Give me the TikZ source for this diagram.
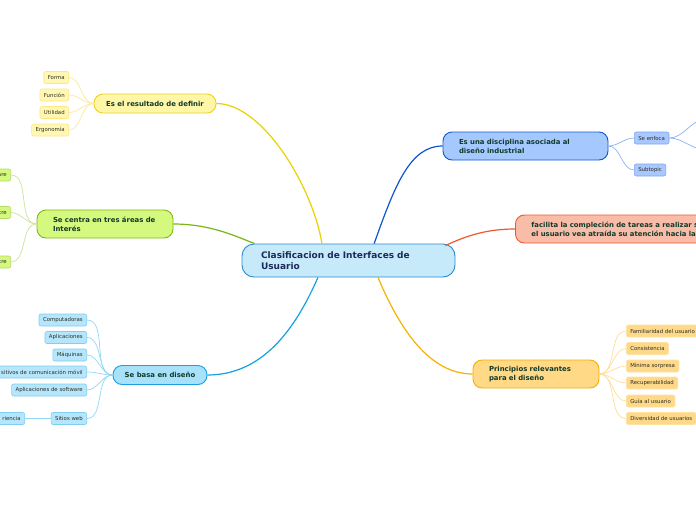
\documentclass[tikz,border=0pt]{standalone}
\usepackage{fontspec}
\setmainfont{DejaVu Sans}
\usetikzlibrary{calc}
\definecolor{ytfill}{HTML}{FFF6A8}\definecolor{ytdraw}{HTML}{EBD321}\definecolor{ytline}{HTML}{E8D200}
\definecolor{ylfill}{HTML}{FFF7B3}\definecolor{yldraw}{HTML}{FFE680}\definecolor{ylline}{HTML}{FBEA9A}
\definecolor{gtfill}{HTML}{D5F87E}\definecolor{gtdraw}{HTML}{80BA14}\definecolor{gtline}{HTML}{7CB518}
\definecolor{glfill}{HTML}{D5F87E}\definecolor{gldraw}{HTML}{B5DC6A}\definecolor{glline}{HTML}{C8E69A}
\definecolor{btfill}{HTML}{A7E1FA}\definecolor{btdraw}{HTML}{1AA0E0}\definecolor{btline}{HTML}{14A2E0}
\definecolor{blfill}{HTML}{B5E6FB}\definecolor{bldraw}{HTML}{80CFF2}\definecolor{blline}{HTML}{90D8F5}
\definecolor{cfill}{HTML}{C7EAFA}\definecolor{cdraw}{HTML}{2B8AD0}
\definecolor{dtfill}{HTML}{A5C8FF}\definecolor{dtdraw}{HTML}{0D5AD5}\definecolor{dtline}{HTML}{0B55D0}
\definecolor{dlfill}{HTML}{A8C8FF}\definecolor{dldraw}{HTML}{7FA8F0}\definecolor{dlline}{HTML}{8DB0F0}
\definecolor{stfill}{HTML}{F8BCA8}\definecolor{stdraw}{HTML}{F0582A}
\definecolor{otfill}{HTML}{FFD985}\definecolor{otdraw}{HTML}{F5B000}\definecolor{otline}{HTML}{F5B200}
\definecolor{olfill}{HTML}{FFD98A}\definecolor{oldraw}{HTML}{FFE2A0}\definecolor{olline}{HTML}{FFDE99}
\definecolor{tgreen}{HTML}{123A2A}\definecolor{tnavy}{HTML}{1B2A5A}\definecolor{tleaf}{HTML}{2E2E22}
\begin{document}
\begin{tikzpicture}[x=1pt,y=-1pt,
  topic/.style={draw,line width=0.9pt,rounded corners=9pt,minimum height=28pt,inner ysep=2pt,
    font=\bfseries\fontsize{6.9}{9}\selectfont,text=tgreen},
  onel/.style={topic,minimum height=19pt,align=center,inner xsep=0pt},
  twol/.style={topic,align=left,inner xsep=16pt},
  leaf/.style={draw,line width=0.6pt,rounded corners=2pt,minimum height=12pt,inner xsep=4pt,inner ysep=0pt,
    font=\fontsize{5.4}{6.4}\selectfont,text=tleaf},
  mainline/.style={line width=1.2pt},
  leafline/.style={line width=0.7pt},
  fan/.style={out=180,in=0,looseness=0.9},
  fanr/.style={out=0,in=180,looseness=0.9}]
\useasboundingbox (0,0) rectangle (696,520);
\fill[white] (0,0) rectangle (696,520);

% central
\node[draw=cdraw,fill=cfill,line width=0.9pt,rounded corners=12pt,minimum width=213pt,minimum height=33pt,
  text width=175pt,inner xsep=19pt,align=left,font=\bfseries\fontsize{9}{11}\selectfont,text=tnavy]
  (c) at (348.5,260.5) {Clasificacion de Interfaces de\\Usuario};

% yellow
\node[onel,draw=ytdraw,fill=ytfill,minimum width=122pt] (y) at (155,103.5) {Es el resultado de definir};
\node[leaf,draw=yldraw,fill=ylfill,anchor=east] (y1) at (69,77.5) {Forma};
\node[leaf,draw=yldraw,fill=ylfill,anchor=east] (y2) at (69,95) {Función};
\node[leaf,draw=yldraw,fill=ylfill,anchor=east] (y3) at (69,112.5) {Utilidad};
\node[leaf,draw=yldraw,fill=ylfill,anchor=east] (y4) at (69,130) {Ergonomía};
\foreach \n in {y1,y2,y3,y4} \draw[ylline,leafline] (y.west) to[fan] (\n.east);
\draw[ytline,mainline] ($(c.north west)!0.376!(c.north east)$) .. controls (312,185) and (262,103.5) .. (y.east);

% green
\node[twol,draw=gtdraw,fill=gtfill,minimum width=136pt,text width=104pt] (g) at (105,224) {Se centra en tres áreas de\\Interés};
\node[leaf,draw=gldraw,fill=glfill,anchor=east,text width=30pt,align=right] (g1) at (11,175) {are};
\node[leaf,draw=gldraw,fill=glfill,anchor=east,text width=30pt,align=right] (g2) at (11,212.5) {tre};
\node[leaf,draw=gldraw,fill=glfill,anchor=east,text width=30pt,align=right] (g3) at (11,262) {tre};
\foreach \n in {g1,g2,g3} \draw[glline,leafline] (g.west) to[fan] (\n.east);
\draw[gtline,mainline] (g.east) .. controls (210,224) and (235,236) .. ($(c.north west)+(13,0)$);

% light blue
\node[onel,draw=btdraw,fill=btfill,minimum width=94pt] (b) at (160,375) {Se basa en diseño};
\node[leaf,draw=bldraw,fill=blfill,anchor=east] (b1) at (87,320) {Computadoras};
\node[leaf,draw=bldraw,fill=blfill,anchor=east] (b2) at (87,337.5) {Aplicaciones};
\node[leaf,draw=bldraw,fill=blfill,anchor=east] (b3) at (87,355) {Máquinas};
\node[leaf,draw=bldraw,fill=blfill,anchor=east,text width=100pt,align=right] (b4) at (87,372) {sitivos de comunicación móvil};
\node[leaf,draw=bldraw,fill=blfill,anchor=east] (b5) at (87,390) {Aplicaciones de software};
\node[leaf,draw=bldraw,fill=blfill,anchor=east] (b6) at (87,418.5) {Sitios web};
\node[leaf,draw=bldraw,fill=blfill,anchor=east,text width=30pt,align=right] (b7) at (25,418.5) {riencia};
\foreach \n in {b1,b2,b3,b4,b5,b6} \draw[blline,leafline] (b.west) to[fan] (\n.east);
\draw[blline,leafline] (b6.west) -- (b7.east);
\draw[btline,mainline] ($(c.south west)!0.357!(c.south east)$) .. controls (295,330) and (262,375) .. (b.east);

% dark blue
\node[twol,draw=dtdraw,fill=dtfill,minimum width=165pt,text width=133pt] (d) at (525.5,146) {Es una disciplina asociada al\\diseño industrial};
\node[leaf,draw=dldraw,fill=dlfill,anchor=west] (d1) at (634,138) {Se enfoca};
\node[leaf,draw=dldraw,fill=dlfill,anchor=west] (d2) at (634,170) {Subtopic};
\coordinate (d11) at (706,119);
\coordinate (d12) at (706,150);
\draw[dlline,leafline] (d.east) to[fanr] (d1.west);
\draw[dlline,leafline] (d.east) to[fanr] (d2.west);
\draw[dlline,leafline] (d1.east) to[fanr] (d11);
\draw[dlline,leafline] (d1.east) to[fanr] (d12);
\draw[dtline,mainline] ($(c.north west)!0.62!(c.north east)$) .. controls (395,185) and (410,146) .. (d.west);

% salmon
\node[twol,draw=stdraw,fill=stfill,minimum width=280pt,text width=248pt,anchor=west] (s) at (515,229) {facilita la compleción de tareas a realizar s\\el usuario vea atraída su atención hacia la};
\draw[stdraw,mainline] ($(c.north east)+(-10,2)$) .. controls (470,234) and (490,229) .. (s.west);

% orange
\node[twol,draw=otdraw,fill=otfill,minimum width=126pt,text width=94pt] (o) at (536,374) {Principios relevantes\\para el diseño};
\node[leaf,draw=oldraw,fill=olfill,anchor=west] (o1) at (626,331) {Familiaridad del usuario};
\node[leaf,draw=oldraw,fill=olfill,anchor=west] (o2) at (626,348.5) {Consistencia};
\node[leaf,draw=oldraw,fill=olfill,anchor=west] (o3) at (626,366) {Mínima sorpresa};
\node[leaf,draw=oldraw,fill=olfill,anchor=west] (o4) at (626,383) {Recuperabilidad};
\node[leaf,draw=oldraw,fill=olfill,anchor=west] (o5) at (626,401) {Guía al usuario};
\node[leaf,draw=oldraw,fill=olfill,anchor=west] (o6) at (626,418.5) {Diversidad de usuarios};
\foreach \n in {o1,o2,o3,o4,o5,o6} \draw[olline,leafline] (o.east) to[fanr] (\n.west);
\draw[otline,mainline] ($(c.south west)!0.638!(c.south east)$) .. controls (400,330) and (430,374) .. (o.west);
\end{tikzpicture}
\end{document}
